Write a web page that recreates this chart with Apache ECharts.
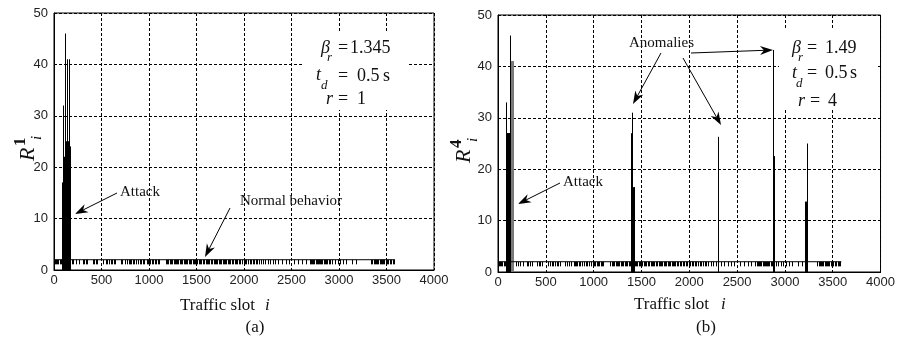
<!DOCTYPE html>
<html>
<head>
<meta charset="utf-8">
<script src="https://cdn.jsdelivr.net/npm/echarts/dist/echarts.min.js"></script>
<style>
html,body{margin:0;padding:0;background:#fff;}
#chart{width:898px;height:341px;}
</style>
</head>
<body>
<div id="chart"></div>
<script>
// ---------------- data ----------------
const xTicks = [0, 500, 1000, 1500, 2000, 2500, 3000, 3500, 4000];
const yTicks = [0, 10, 20, 30, 40, 50];

// panel (a), r = 1 : attack burst
const leftAttackSlots  = [84, 88, 92, 96, 98, 102, 106, 110, 114, 117, 119, 122, 126, 130, 134, 138, 140, 144, 148, 152, 156, 159, 161, 164, 168];
const leftAttackValues = [17, 17, 17, 17, 32, 22, 22, 22, 22, 22, 46, 22, 25, 25, 25, 25, 41, 25, 25, 24, 24, 24, 41, 24, 24];

// panel (b), r = 4 : attack burst (black part and grey part)
const rightAttackSlots  = [87, 91, 95, 99, 103, 107, 111, 115, 119, 121, 123, 126];
const rightAttackValues = [33, 27, 27, 27, 27, 27, 27, 27, 27, 46, 27, 27];
const rightGreySlots  = [129, 133, 137, 141, 145, 149, 153, 157, 161];
const rightGreyValues = [41, 41, 41, 41, 41, 41, 41, 41, 41];

// panel (b) anomalies
const anomalySlots  = [1392, 1396, 1400, 1404, 1406, 1413, 1417, 1421, 2297, 2877, 2886, 2891, 3215, 3220, 3229];
const anomalyValues = [27, 27, 27, 27, 31, 16.5, 16.5, 16.5, 26.3, 43.2, 22.5, 22.5, 13.7, 13.7, 25];

// normal behaviour residuals (small ticks near the bottom)
const normalSlots = [
  8, 18, 30, 45, 60, 72, 190, 205, 232, 260, 300, 318, 335, 352, 410, 425, 440, 455, 520, 545, 560, 580, 600, 612, 628, 645,
  700, 720, 745, 765, 790, 800, 812, 830, 845, 862, 880, 900, 920, 935, 950, 975, 990, 1000, 1015, 1030, 1045, 1060, 1075, 1090, 1100,
  1175, 1190, 1205, 1218, 1232, 1245, 1258, 1270, 1285, 1298, 1310, 1325, 1338, 1350, 1365, 1378, 1390, 1405, 1418, 1430, 1445,
  1458, 1470, 1485, 1498, 1510, 1525, 1538, 1550, 1565, 1580, 1595, 1610, 1622, 1635, 1650, 1665, 1680, 1692, 1705, 1720, 1735,
  1748, 1760, 1775, 1788, 1800, 1815, 1828, 1840, 1855, 1870, 1885, 1900, 1915, 1930, 1948, 1962, 1978, 1995, 2010, 2025, 2040,
  2058, 2075, 2090, 2108, 2125, 2140, 2160, 2180, 2200, 2225, 2250, 2275, 2300, 2330, 2360, 2400, 2440, 2470,
  2530, 2570, 2610, 2650, 2690, 2705, 2718, 2730, 2742, 2754, 2766, 2778, 2790, 2802, 2814, 2826, 2838, 2850, 2862, 2875, 2890,
  2905, 2930, 2960, 2985, 3010, 3040, 3070, 3140, 3180,
  3340, 3352, 3365, 3378, 3390, 3402, 3415, 3428, 3440, 3452, 3465, 3478, 3490, 3505, 3520, 3535, 3550, 3565, 3580
];
const normalLow = 1.1;
const normalHigh = 2.0;
const normalLineX = [0, 3590];

// ---------------- build ----------------
function stems(slots, values, base) {
  return slots.map((s, i) => [s, base, values[i]]);
}
function normalStems() {
  return normalSlots.map(s => [s, normalLow, normalHigh]);
}
function stemSeries(data, gi, color) {
  return {
    type: 'custom', xAxisIndex: gi, yAxisIndex: gi, clip: true, z: 5,
    data: data,
    renderItem: function (params, api) {
      const a = api.coord([api.value(0), api.value(1)]);
      const b = api.coord([api.value(0), api.value(2)]);
      const x = Math.round(a[0]) + 0.5;
      return { type: 'line', shape: { x1: x, y1: a[1], x2: x, y2: b[1] },
               style: { stroke: color, lineWidth: 1 } };
    }
  };
}
function bandLine(gi) {
  return { type: 'line', xAxisIndex: gi, yAxisIndex: gi, symbol: 'none', z: 6,
    data: normalLineX.map(x => [x, normalHigh]),
    lineStyle: { color: '#000', width: 1 } };
}

const serif = "'Liberation Serif','Times New Roman',serif";
const sans = "'Liberation Sans',Arial,sans-serif";

function axisX(gi) {
  return { gridIndex: gi, type: 'value', min: xTicks[0], max: xTicks[xTicks.length - 1], interval: xTicks[1] - xTicks[0],
    axisLine: { show: true, lineStyle: { color: '#000' } }, axisTick: { show: false },
    axisLabel: { color: '#222', fontFamily: sans, fontSize: 13, margin: 4, formatter: v => String(v) },
    splitLine: { show: true, lineStyle: { color: '#000', type: [3, 2], width: 1 } } };
}
function axisY(gi) {
  return { gridIndex: gi, type: 'value', min: yTicks[0], max: yTicks[yTicks.length - 1], interval: yTicks[1] - yTicks[0],
    axisLine: { show: true, lineStyle: { color: '#000' } }, axisTick: { show: false },
    axisLabel: { color: '#222', fontFamily: sans, fontSize: 13, margin: 6, formatter: v => String(v) },
    splitLine: { show: true, lineStyle: { color: '#000', type: [3, 2], width: 1 } } };
}

function txt(x, y, s, font, align) {
  return { type: 'text', x: x, y: y, z: 100,
    style: { text: s, font: font, fill: '#111', align: align || 'left', verticalAlign: 'middle',
             textAlign: align || 'left', textVerticalAlign: 'middle' } };
}
function arrow(x1, y1, x2, y2) {
  const dx = x2 - x1, dy = y2 - y1, L = Math.hypot(dx, dy);
  const ux = dx / L, uy = dy / L, nx = -uy, ny = ux;
  const hl = 13, hw = 4.5, notch = 9;
  const bx = x2 - ux * hl, by = y2 - uy * hl;
  const mx = x2 - ux * notch, my = y2 - uy * notch;
  return [
    { type: 'line', z: 100, shape: { x1: x1, y1: y1, x2: mx, y2: my }, style: { stroke: '#000', lineWidth: 1 } },
    { type: 'polygon', z: 100, shape: { points: [[x2, y2], [bx + nx * hw, by + ny * hw], [mx, my], [bx - nx * hw, by - ny * hw]] },
      style: { fill: '#000' } }
  ];
}
function yName(ox, oy, sup) {
  return { type: 'group', x: ox, y: oy, rotation: Math.PI / 2, z: 100, children: [
    { type: 'text', x: 0, y: 0, style: { text: 'R', font: 'italic 22px ' + serif, fill: '#111', align: 'left', verticalAlign: 'middle', textAlign: 'left', textVerticalAlign: 'middle' } },
    { type: 'text', x: 15, y: -7, style: { text: sup, font: 'bold 17px ' + serif, fill: '#111', align: 'left', verticalAlign: 'middle', textAlign: 'left', textVerticalAlign: 'middle' } },
    { type: 'text', x: 21, y: 9, style: { text: 'i', font: 'italic 15px ' + serif, fill: '#111', align: 'left', verticalAlign: 'middle', textAlign: 'left', textVerticalAlign: 'middle' } }
  ] };
}

const F = '18px ' + serif, FI = 'italic 18px ' + serif, FS = 'italic 13px ' + serif, FA = '15px ' + serif;
const FL = '17px ' + serif;

const graphics = [
  // white boxes behind parameter text
  { type: 'rect', z: 90, shape: { x: 303, y: 33, width: 105, height: 77 }, style: { fill: '#fff' } },
  { type: 'rect', z: 90, shape: { x: 779, y: 30, width: 98, height: 79 }, style: { fill: '#fff' } },
  // panel (a) parameters
  txt(321, 48, 'β', FI), txt(327, 58, 'r', FS), txt(338, 48, '=', F), txt(350, 48, '1.345', F),
  txt(316, 75, 't', FI), txt(321, 86, 'd', FS), txt(338, 76, '=', F), txt(357, 76, '0.5', F), txt(383, 76, 's', F),
  txt(326, 99, 'r', FI), txt(338, 99, '=', F), txt(357, 99, '1', F),
  // panel (b) parameters
  txt(792, 48, 'β', FI), txt(798, 58, 'r', FS), txt(807, 48, '=', F), txt(825, 48, '1.49', F),
  txt(792, 73, 't', FI), txt(796, 84, 'd', FS), txt(807, 73, '=', F), txt(825, 73, '0.5', F), txt(850, 73, 's', F),
  txt(798, 101, 'r', FI), txt(810, 101, '=', F), txt(828, 101, '4', F),
  // annotations
  txt(120, 192, 'Attack', FA),
  txt(240, 201, 'Normal behavior', FA),
  txt(563, 182, 'Attack', FA),
  txt(629, 43, 'Anomalies', FA),
  ...arrow(117, 193, 75, 214),
  ...arrow(230, 208, 205, 257),
  ...arrow(560, 183, 518, 204),
  ...arrow(661, 53, 633, 104),
  ...arrow(683, 58, 721, 125),
  ...arrow(691, 53, 773, 50),
  // axis names
  txt(180, 306, 'Traffic slot', FL), txt(265, 306, 'i', 'italic 17px ' + serif),
  txt(634, 305, 'Traffic slot', FL), txt(721, 305, 'i', 'italic 17px ' + serif),
  txt(255, 328, '(a)', '17px ' + serif, 'center'),
  txt(706, 328, '(b)', '17px ' + serif, 'center'),
  yName(28, 161, '1'),
  yName(464, 163, '4')
];

const option = {
  animation: false,
  backgroundColor: '#fff',
  grid: [
    { left: 54, top: 13, width: 380, height: 257, show: true, borderColor: '#000', borderWidth: 1, backgroundColor: '#fff' },
    { left: 498, top: 15, width: 386, height: 257, show: true, borderColor: '#000', borderWidth: 1, backgroundColor: '#fff' }
  ],
  xAxis: [axisX(0), axisX(1)],
  yAxis: [axisY(0), axisY(1)],
  series: [
    stemSeries(normalStems(), 0, '#000'),
    bandLine(0),
    stemSeries(stems(leftAttackSlots, leftAttackValues, 0), 0, '#000'),
    stemSeries(normalStems(), 1, '#000'),
    bandLine(1),
    stemSeries(stems(rightGreySlots, rightGreyValues, 0), 1, '#7a7a7a'),
    stemSeries(stems(rightAttackSlots, rightAttackValues, 0), 1, '#000'),
    stemSeries(stems(anomalySlots, anomalyValues, 0), 1, '#000')
  ],
  graphic: graphics
};

const chart = echarts.init(document.getElementById('chart'), null, { renderer: 'canvas' });
chart.setOption(option);
</script>
</body>
</html>
